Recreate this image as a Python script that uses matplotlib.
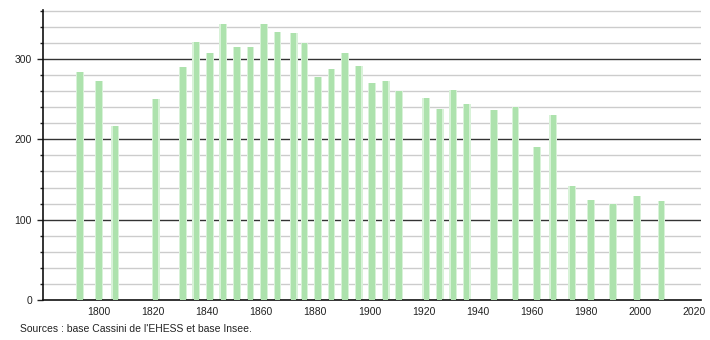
import matplotlib
matplotlib.use("Agg")
import matplotlib.pyplot as plt
from matplotlib.ticker import MultipleLocator

plt.rcParams['font.family'] = ['Liberation Sans', 'DejaVu Sans']

years = [1793, 1800, 1806, 1821, 1831, 1836, 1841, 1846, 1851, 1856, 1861,
         1866, 1872, 1876, 1881, 1886, 1891, 1896, 1901, 1906, 1911, 1921,
         1926, 1931, 1936, 1946, 1954, 1962, 1968, 1975, 1982, 1990, 1999,
         2008]
population = [284, 272, 216, 250, 290, 321, 308, 344, 315, 315, 343,
              333, 332, 320, 277, 288, 308, 291, 270, 273, 260, 252,
              238, 262, 244, 237, 240, 191, 230, 142, 125, 120, 130,
              123]
source = "Sources : base Cassini de l'EHESS et base Insee."

fig = plt.figure(figsize=(7.1, 3.4), dpi=100)
ax = fig.add_axes([43 / 710, 40 / 340, 658 / 710, 290 / 340])

# grid: light every 20, dark every 100
for v in range(20, 361, 20):
    if v % 100 == 0:
        ax.axhline(v, color='#333333', lw=1.0, zorder=1)
    else:
        ax.axhline(v, color='#cccccc', lw=1.0, zorder=1)

# soft halo then bar core
ax.bar(years, population, width=2.9, color='#d8f2d8', zorder=2)
ax.bar(years, population, width=2.0, color='#ade2ad', zorder=3)

ax.set_xlim(1779.3, 2022.6)
ax.set_ylim(0, 361)
ax.xaxis.set_major_locator(MultipleLocator(20))
ax.set_xticks(range(1800, 2021, 20))
ax.yaxis.set_major_locator(MultipleLocator(100))
ax.yaxis.set_minor_locator(MultipleLocator(20))
ax.tick_params(axis='x', length=0, labelsize=7.5, colors='#222222', pad=5)
ax.tick_params(axis='y', which='major', length=4, width=1, labelsize=7.5, colors='#222222', pad=4)
ax.tick_params(axis='y', which='minor', length=2, width=1, color='#222222')

for s in ['top', 'right']:
    ax.spines[s].set_visible(False)
ax.spines['left'].set_color('#111111')
ax.spines['bottom'].set_color('#111111')
ax.spines['left'].set_linewidth(1.2)
ax.spines['bottom'].set_linewidth(1.2)

fig.text(20 / 710, 1 - 329 / 340, source, fontsize=7.5, color='#222222', va='center')

fig.savefig('out.png', dpi=100)
